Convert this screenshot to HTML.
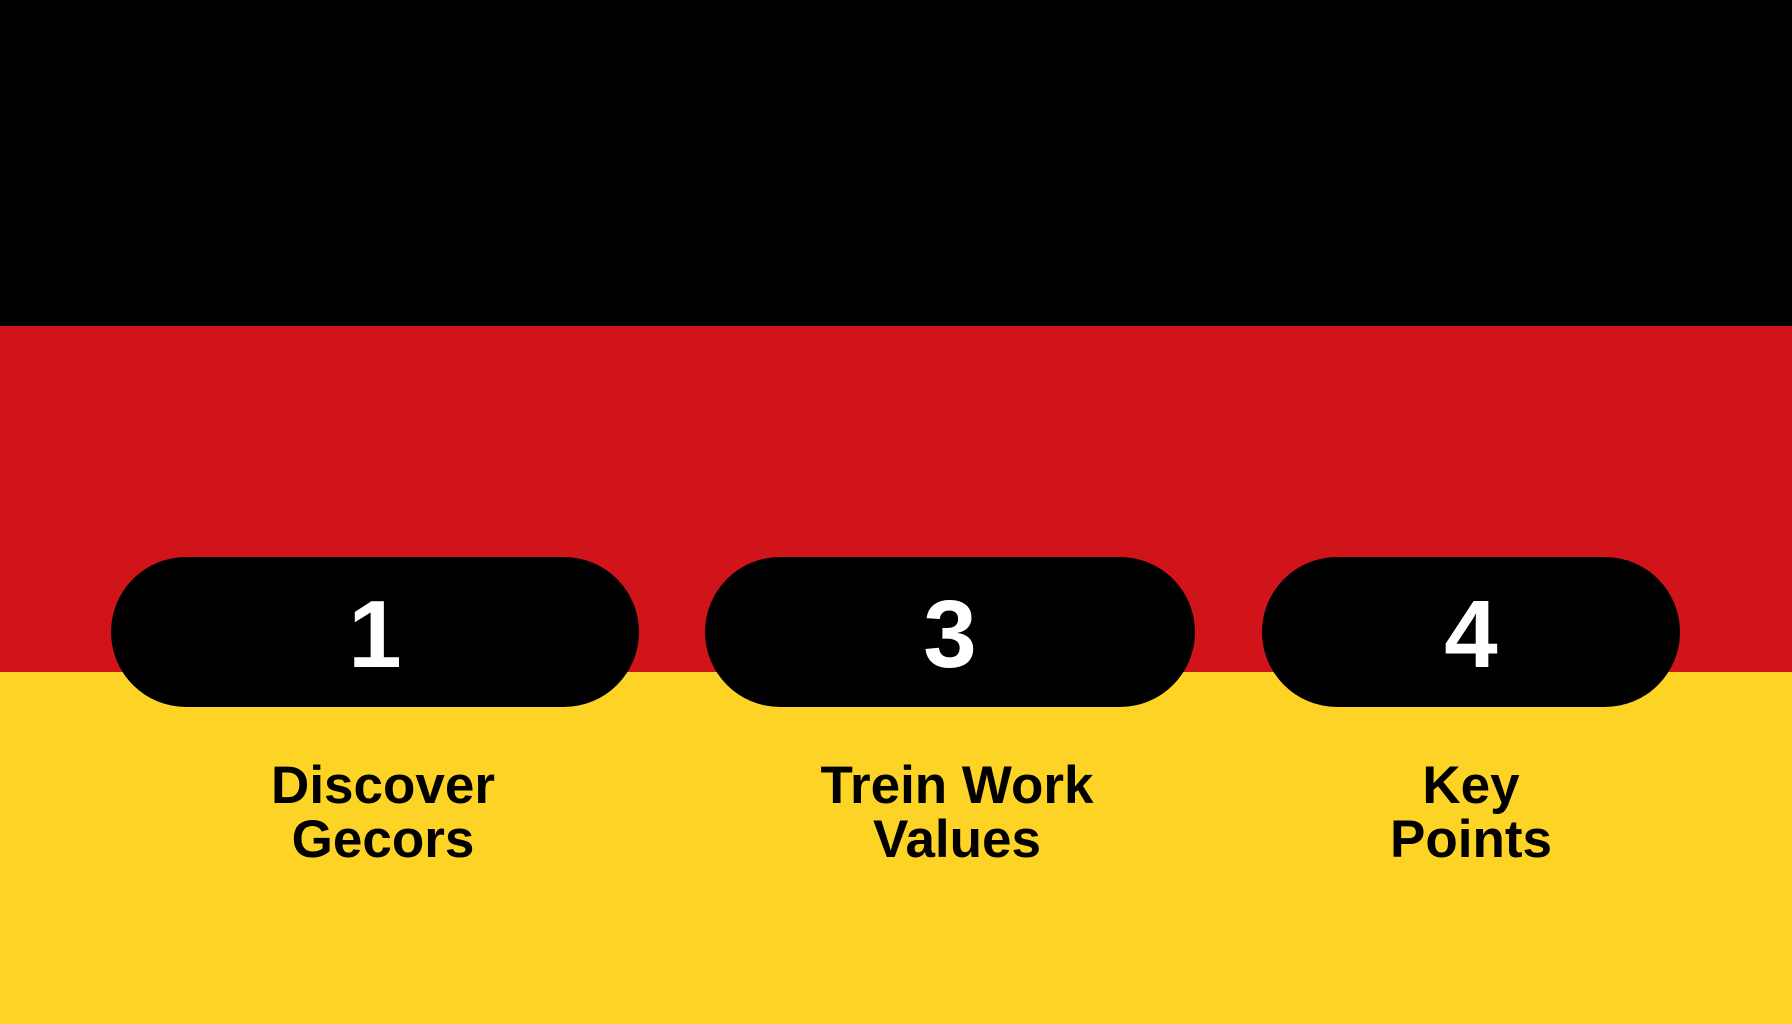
<!DOCTYPE html>
<html><head><meta charset="utf-8"><style>
html,body{margin:0;padding:0}
body{width:1792px;height:1024px;position:relative;overflow:hidden;font-family:"Liberation Sans",sans-serif;background:#fdd426}
.b{position:absolute;left:0;width:1792px}
.pill{position:absolute;top:557px;height:150px;border-radius:75px;background:#000;color:#fff;font-weight:bold;font-size:96px;display:flex;align-items:center;justify-content:center;line-height:1}
.pill span{position:relative;top:3px}
.lab{position:absolute;top:759px;width:500px;text-align:center;font-weight:900;font-size:53px;line-height:54px;color:#000}
</style></head><body>
<div class="b" style="top:0;height:326px;background:#000"></div>
<div class="b" style="top:326px;height:346px;background:#d01419"></div>
<div class="pill" style="left:111px;width:528px"><span>1</span></div>
<div class="pill" style="left:705px;width:490px"><span>3</span></div>
<div class="pill" style="left:1262px;width:418px"><span>4</span></div>
<div class="lab" style="left:133px">Discover<br>Gecors</div>
<div class="lab" style="left:707px">Trein Work<br>Values</div>
<div class="lab" style="left:1221px">Key<br>Points</div>
</body></html>
